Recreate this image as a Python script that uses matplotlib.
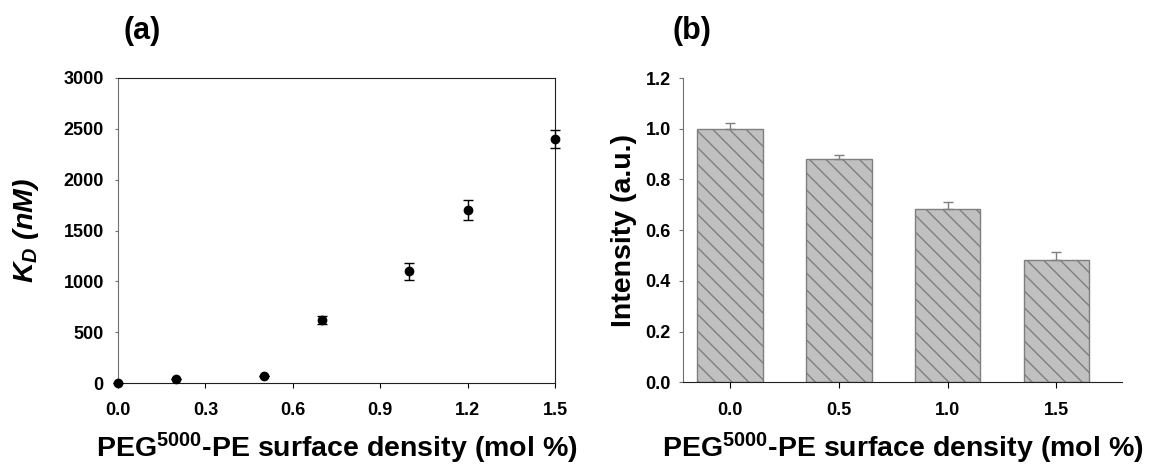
import numpy as np
import matplotlib.pyplot as plt

plt.rcParams['font.family'] = ['Liberation Sans', 'DejaVu Sans']
plt.rcParams['font.weight'] = 'bold'
plt.rcParams['mathtext.default'] = 'regular'
plt.rcParams['hatch.color'] = '#7f7f7f'
plt.rcParams['hatch.linewidth'] = 1.0

# (a) dissociation constant vs PEG density
peg_a = [0.0, 0.2, 0.5, 0.7, 1.0, 1.2, 1.5]
kd = [5, 40, 70, 620, 1100, 1700, 2400]
kd_err = [0, 0, 0, 40, 85, 100, 85]

# (b) normalised intensity
peg_b = [0.0, 0.5, 1.0, 1.5]
intensity = [1.0, 0.88, 0.685, 0.483]
intensity_err = [0.022, 0.015, 0.025, 0.03]

xlabel = 'PEG$^{5000}$-PE surface density (mol %)'
tick_fs = 13
label_fs = 20.5

fig = plt.figure(figsize=(11.51, 4.65), dpi=100)

# panel (a)
ax1 = fig.add_axes([0.1025, 0.1763, 0.3797, 0.656])
ax1.errorbar(peg_a, kd, yerr=kd_err, fmt='o', color='black', markersize=6,
             capsize=3.6, elinewidth=1, capthick=1, clip_on=False, zorder=3)
ax1.set_xlim(0, 1.5)
ax1.set_ylim(0, 3000)
ax1.set_xticks(np.arange(0, 1.51, 0.3))
ax1.set_xticklabels([f'{v:.1f}' for v in np.arange(0, 1.51, 0.3)])
ax1.set_yticks(np.arange(0, 3001, 500))
for side in ['top', 'right', 'bottom']:
    ax1.spines[side].set_color('#202020')
ax1.spines['left'].set_color('#707070')
ax1.tick_params(axis='both', direction='out', labelsize=tick_fs)
ax1.tick_params(axis='x', length=3.6, pad=9.8)
ax1.tick_params(axis='y', length=2.5, pad=7.7, colors='#707070', labelcolor='black')
ax1.set_xlabel(xlabel, fontsize=label_fs, fontweight='bold', labelpad=9)
ax1.set_ylabel(r'$K_D$ $(nM)$', fontsize=label_fs, fontweight='bold',
               fontstyle='italic', labelpad=16)
fig.text(0.107, 0.933, '(a)', fontsize=22, fontweight='bold', va='center')

# panel (b)
ax2 = fig.add_axes([0.5937, 0.178, 0.3809, 0.654])
ax2.bar(peg_b, intensity, width=0.3, color='#c0c0c0', edgecolor='#7f7f7f',
        linewidth=1, hatch='\\\\', zorder=2)
ax2.errorbar(peg_b, intensity, yerr=[np.zeros(len(intensity_err)), intensity_err],
             fmt='none', ecolor='#7f7f7f', capsize=3.3, elinewidth=1, capthick=1,
             zorder=3)
ax2.set_xlim(-0.215, 1.8)
ax2.set_ylim(0, 1.2)
ax2.set_xticks(peg_b)
ax2.set_xticklabels([f'{v:.1f}' for v in peg_b])
ax2.set_yticks(np.arange(0, 1.21, 0.2))
ax2.set_yticklabels([f'{v:.1f}' for v in np.arange(0, 1.21, 0.2)])
ax2.spines['top'].set_visible(False)
ax2.spines['right'].set_visible(False)
ax2.spines['left'].set_color('#707070')
ax2.spines['bottom'].set_color('#202020')
ax2.tick_params(axis='both', direction='out', labelsize=tick_fs)
ax2.tick_params(axis='x', length=4, pad=10)
ax2.tick_params(axis='y', length=3, pad=6, colors='#707070', labelcolor='black')
ax2.set_xlabel(xlabel, fontsize=label_fs, fontweight='bold', labelpad=9)
ax2.set_ylabel('Intensity (a.u.)', fontsize=label_fs, fontweight='bold', labelpad=6)
fig.text(0.5847, 0.933, '(b)', fontsize=22, fontweight='bold', va='center')

fig.savefig('out.png', dpi=100)
